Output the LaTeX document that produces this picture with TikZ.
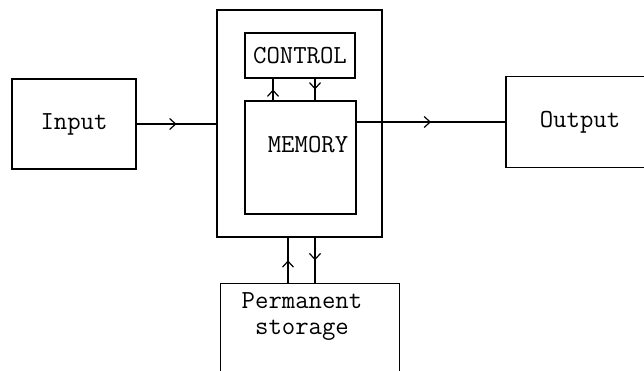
\documentclass[tikz,border=0pt]{standalone}
\usepackage{tikz}
\usetikzlibrary{arrows.meta,positioning,calc,decorations.markings}

\begin{document}
\begin{tikzpicture}[
        x=1pt, y=-1pt,
        block/.style={rectangle, draw, line width=1.2pt, inner sep=0pt},
        label text/.style={font=\ttfamily\fontsize{26}{26}\selectfont, align=center},
        flow/.style={line width=1.2pt, decoration={markings,
            mark=at position 0.5 with {\arrow{Straight Barb[length=6pt,width=11pt,line width=1.2pt]}}},
            postaction={decorate}}
    ]
    \useasboundingbox (0,0) rectangle (644,370);

    % Central unit
    \node[block, minimum width=165, minimum height=227] (cpu) at (299.5,123.5) {};
    \node[block, minimum width=110, minimum height=45, label text] (control) at (300,55.5) {CONTROL};
    \node[block, minimum width=111, minimum height=113] (memory) at (300.5,157.5) {};
    \node[label text] (memtext) at (308,145) {MEMORY};

    % Input and output
    \node[block, minimum width=124, minimum height=90, label text] (input) at (74,124) {Input};
    \node[block, minimum width=148, minimum height=91, label text] (output) at (580,122) {Output};

    % Permanent storage
    \node[block, minimum width=179, minimum height=110, anchor=north west] (storage) at (220,283) {};
    \node[label text] (storetext) at (302,317) {Permanent\\storage};

    % Connections
    \draw[flow] (input.east) -- (input.east -| cpu.west);
    \draw[flow] (memory.east |- output.west) -- (output.west);
    \draw[flow] (memory.north -| 273,0) -- (control.south -| 273,0);
    \draw[flow] (control.south -| 315,0) -- (memory.north -| 315,0);
    \draw[flow] (storage.north -| 288,0) -- (cpu.south -| 288,0);
    \draw[flow] (cpu.south -| 315,0) -- (storage.north -| 315,0);

\end{tikzpicture}
\end{document}
